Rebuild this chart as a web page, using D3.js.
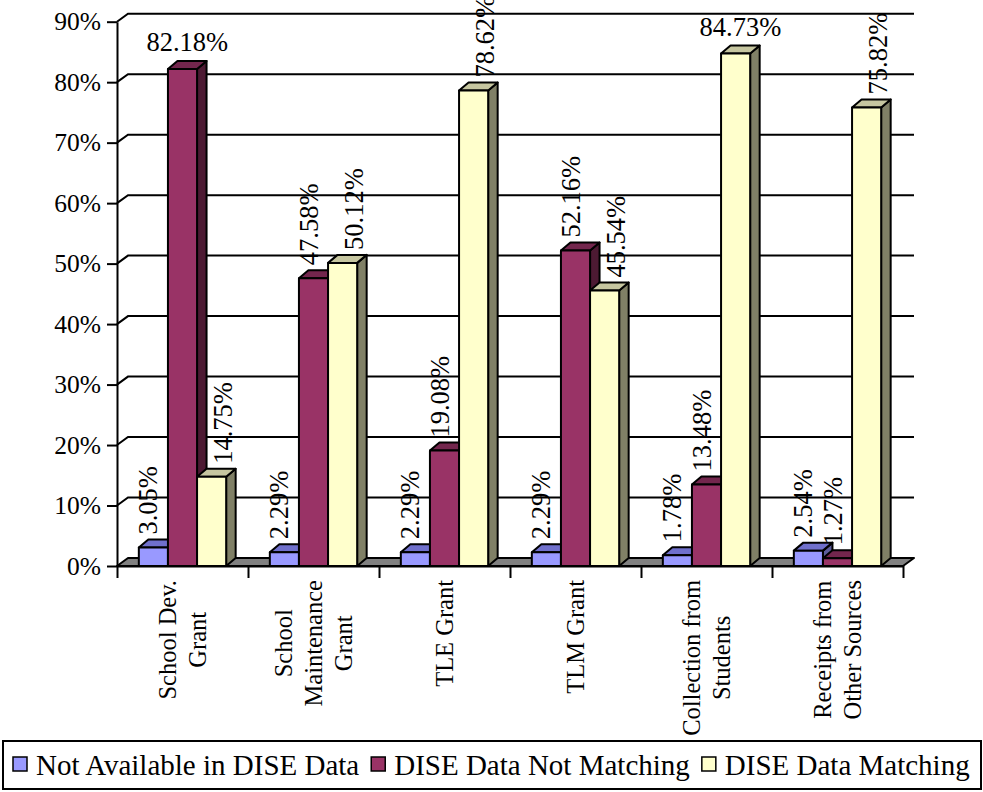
<!DOCTYPE html>
<html>
<head>
<meta charset="utf-8">
<script src="https://cdn.jsdelivr.net/npm/d3@7"></script>
<style>
  html, body { margin: 0; padding: 0; background: #ffffff; }
  svg { display: block; }
  svg text { font-family: "Liberation Serif", "DejaVu Serif", serif; fill: #000; }
</style>
</head>
<body>
<svg id="chart" width="983" height="792"></svg>
<script>
// ---- data ----
const categories = [
  ["School Dev.", "Grant"],
  ["School", "Maintenance", "Grant"],
  ["TLE Grant"],
  ["TLM Grant"],
  ["Collection from", "Students"],
  ["Receipts from", "Other Sources"]
];
const seriesNames = ["Not Available in DISE Data", "DISE Data Not Matching", "DISE Data Matching"];
const notAvailable = [3.05, 2.29, 2.29, 2.29, 1.78, 2.54];
const notMatching  = [82.18, 47.58, 19.08, 52.16, 13.48, 1.27];
const matching     = [14.75, 50.12, 78.62, 45.54, 84.73, 75.82];
const yTicks = [0, 10, 20, 30, 40, 50, 60, 70, 80, 90];
const yTickLabels = ["0%", "10%", "20%", "30%", "40%", "50%", "60%", "70%", "80%", "90%"];

const series = [notAvailable, notMatching, matching];

// ---- styling ----
const serif = "Liberation Serif";
const palette = [
  { front: "#9999FF", top: "#7070CC", side: "#5C5C99" },
  { front: "#993366", top: "#73264D", side: "#4D1A33" },
  { front: "#FFFFCC", top: "#C6C6A0", side: "#808066" }
];
const labelShift = [-5, -5, 11];

// ---- layout ----
const plot = { left: 117, right: 903, bottom: 566, top: 21.7 };
const wallDepth = { dx: 11, dy: -8 };
const barDepth = { dx: 9.5, dy: -8 };
const stroke = 2;

const svg = d3.select("#chart");

const y = d3.scaleLinear().domain([0, 90]).range([plot.bottom, plot.top]);
const xCat = d3.scaleBand().domain(d3.range(categories.length))
  .range([plot.left, plot.right]).paddingInner(0).paddingOuter(0);
const xSeries = d3.scaleBand().domain(d3.range(series.length))
  .range([0, xCat.bandwidth()]).paddingInner(0).paddingOuter(0.75);
const xEdge = d3.scaleLinear().domain([0, categories.length]).range([plot.left, plot.right]);

// back wall gridlines + left wall diagonals
const grid = svg.append("g");
yTicks.filter(t => t > 0).forEach(t => {
  const yy = y(t);
  grid.append("path")
    .attr("d", `M${plot.left},${yy}L${plot.left + wallDepth.dx},${yy + wallDepth.dy}L${plot.right + wallDepth.dx},${yy + wallDepth.dy}`)
    .attr("fill", "none").attr("stroke", "#000").attr("stroke-width", stroke);
});

// floor
svg.append("path")
  .attr("d", `M${plot.left},${plot.bottom}L${plot.left + wallDepth.dx},${plot.bottom + wallDepth.dy}` +
    `L${plot.right + wallDepth.dx},${plot.bottom + wallDepth.dy}L${plot.right},${plot.bottom}Z`)
  .attr("fill", "#808080").attr("stroke", "#000").attr("stroke-width", stroke).attr("stroke-linejoin", "round");

// y axis
const yAxis = svg.append("g")
  .attr("transform", `translate(${plot.left},0)`)
  .call(d3.axisLeft(y).tickValues(yTicks).tickFormat((d, i) => yTickLabels[i])
    .tickSize(10).tickSizeOuter(0).tickPadding(6));
yAxis.attr("font-family", serif).attr("font-size", 25.5);
yAxis.select(".domain").attr("stroke-width", stroke);
yAxis.selectAll(".tick line").attr("stroke-width", stroke);

// x axis category boundary ticks
const xAxis = svg.append("g")
  .attr("transform", `translate(0,${plot.bottom})`)
  .call(d3.axisBottom(xEdge).tickValues(d3.range(categories.length + 1)).tickFormat("")
    .tickSize(12).tickSizeOuter(0));
xAxis.select(".domain").attr("stroke-width", stroke);
xAxis.selectAll(".tick line").attr("stroke-width", stroke);

// 3D bars
const bars = svg.append("g");
categories.forEach((c, ci) => {
  series.forEach((vals, si) => {
    const v = vals[ci];
    const x0 = xCat(ci) + xSeries(si);
    const w = xSeries.bandwidth();
    const yt = y(v), yb = y(0);
    const { dx, dy } = barDepth;
    const col = palette[si];
    const g = bars.append("g")
      .attr("stroke", "#000").attr("stroke-width", stroke).attr("stroke-linejoin", "round");
    g.append("path").attr("fill", col.side)
      .attr("d", `M${x0 + w},${yt}L${x0 + w + dx},${yt + dy}L${x0 + w + dx},${yb + dy}L${x0 + w},${yb}Z`);
    g.append("path").attr("fill", col.top)
      .attr("d", `M${x0},${yt}L${x0 + dx},${yt + dy}L${x0 + w + dx},${yt + dy}L${x0 + w},${yt}Z`);
    g.append("rect").attr("fill", col.front)
      .attr("x", x0).attr("y", yt).attr("width", w).attr("height", yb - yt);
  });
});

// value labels
const labels = svg.append("g").attr("font-family", serif).attr("font-size", 26.5);
categories.forEach((c, ci) => {
  series.forEach((vals, si) => {
    const v = vals[ci];
    const x0 = xCat(ci) + xSeries(si);
    const w = xSeries.bandwidth();
    const txt = v.toFixed(2) + "%";
    if (v > 80) {
      labels.append("text")
        .attr("x", x0 + w / 2 + barDepth.dx / 2)
        .attr("y", y(v) - 18)
        .attr("text-anchor", "middle")
        .text(txt);
    } else {
      const cx = x0 + w / 2 + labelShift[si];
      const sy = y(v) - 13;
      labels.append("text")
        .attr("transform", `translate(${cx},${sy}) rotate(-90)`)
        .attr("text-anchor", "start")
        .attr("dominant-baseline", "central")
        .text(txt);
    }
  });
});

// category labels (rotated, multi-line, centred on the longest line)
const catG = svg.append("g").attr("font-family", serif).attr("font-size", 24.5);
categories.forEach((lines, ci) => {
  const cx = xCat(ci) + xCat.bandwidth() / 2;
  const lineGap = 30;
  const g = catG.append("g");
  const texts = lines.map(ln => g.append("text")
    .attr("text-anchor", "middle")
    .attr("dominant-baseline", "central")
    .text(ln));
  const longest = d3.max(texts, t => t.node().getComputedTextLength());
  const cy = plot.bottom + 14 + longest / 2;
  texts.forEach((t, li) => {
    const lx = cx + (li - (lines.length - 1) / 2) * lineGap;
    t.attr("transform", `translate(${lx},${cy}) rotate(-90)`);
  });
});

// legend
const legend = svg.append("g").attr("font-family", serif);
legend.append("rect")
  .attr("x", 3).attr("y", 741).attr("width", 978).attr("height", 48)
  .attr("fill", "#fff").attr("stroke", "#000").attr("stroke-width", stroke);
let lx = 13;
seriesNames.forEach((name, si) => {
  legend.append("rect")
    .attr("x", lx).attr("y", 757).attr("width", 14).attr("height", 14)
    .attr("fill", palette[si].front).attr("stroke", "#000").attr("stroke-width", 1.5);
  const t = legend.append("text")
    .attr("x", lx + 23).attr("y", 775)
    .attr("font-size", 29)
    .text(name);
  lx += 23 + t.node().getComputedTextLength() + 12;
});
</script>
</body>
</html>
